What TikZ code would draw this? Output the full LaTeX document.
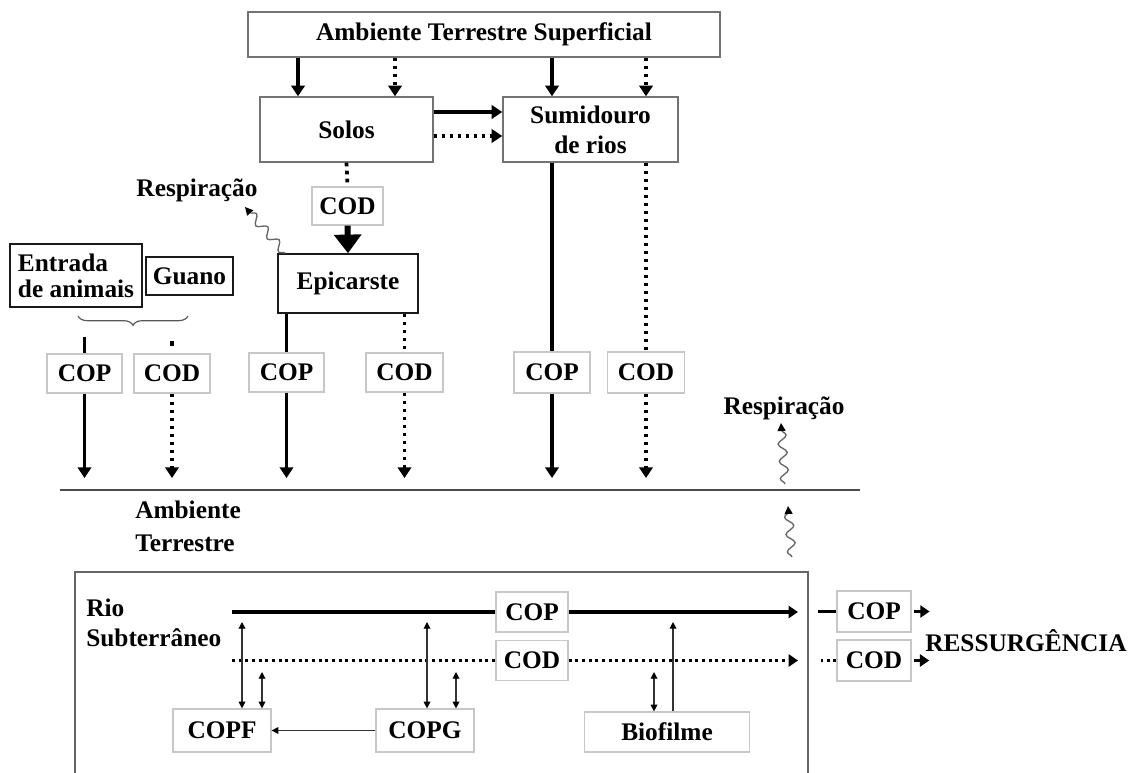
\documentclass[tikz,border=0pt]{standalone}
\usepackage{fontspec}
\setmainfont{Liberation Serif}
\usetikzlibrary{arrows.meta,decorations.pathmorphing,decorations.pathreplacing,calc}
\begin{document}
\begin{tikzpicture}[x=0.75pt,y=-0.75pt,
  lbl/.style={font=\bfseries\fontsize{19}{22.5}\selectfont, inner sep=0pt, text=black},
  bx/.style 2 args={minimum width={#1*0.75pt}, minimum height={#2*0.75pt}, inner sep=0pt, lbl},
  grayb/.style={draw=black!55, line width=1pt},
  lightb/.style={draw=black!22, line width=0.9pt},
  darkb/.style={draw=black!90, line width=1.1pt},
  hd/.style={-{Triangle[width=10pt,length=8pt]}},
  solidline/.style={line width=2.6pt},
  solidarr/.style={solidline, hd},
  dotline/.style={line width=2.8pt, dash pattern=on 2.8pt off 3.2pt},
  dotarr/.style={dotline, hd},
  bigarr/.style={line width=4.5pt, -{Triangle[width=20pt,length=14pt]}},
  rline/.style={line width=2.4pt},
  rarr/.style={rline, -{Triangle[width=9pt,length=7pt]}},
  rdot/.style={line width=2.2pt, dash pattern=on 2.2pt off 2.8pt},
  rdotarr/.style={rdot, -{Triangle[width=9pt,length=7pt]}},
  thinarr/.style={line width=0.9pt, draw=black!80, -{Triangle[width=5pt,length=5pt,color=black]}},
  dbl/.style={line width=0.9pt, draw=black!80, {Triangle[width=5pt,length=5pt,color=black]}-{Triangle[width=5pt,length=5pt,color=black]}},
  wave/.style={draw=black!60, line width=1pt, decorate,
    decoration={snake, amplitude=3.2pt, segment length=13pt, post length=4pt},
    -{Triangle[width=6pt,length=6pt,color=black]}},
  brc/.style={draw=black!65, line width=0.9pt, decorate, decoration={brace, amplitude=7pt, mirror}}
]
\useasboundingbox (0,0) rectangle (1130,773);

% --- upper boxes
\node[grayb, bx={472}{45}] (top) at (484,34.5) {Ambiente Terrestre Superficial};
\node[grayb, bx={173}{65}] (solos) at (346.5,129.5) {Solos};
\node[grayb, bx={175}{65}, align=center] (sumid) at (590.5,129.5) {Sumidouro\\de rios};
\node[lightb, bx={71}{38}] (cod0) at (347.5,206) {COD};
\node[darkb, bx={140}{59}] (epi) at (348,283.5) {Epicarste};
\node[darkb, bx={132}{63}, align=left] (ent) at (76,275.5) {Entrada\\[-3pt]de animais};
\node[darkb, bx={87}{38}] (guano) at (189.5,276) {Guano};
\node[lbl] (resp1) at (197,190) {Respiração};

\coordinate (xa) at (298,0);
\coordinate (xb) at (395,0);
\coordinate (xc) at (552,0);
\coordinate (xd) at (646,0);
\coordinate (ya) at (0,112);
\coordinate (yb) at (0,136);

\draw[solidarr] (xa |- top.south) -- (xa |- solos.north);
\draw[dotarr] (xb |- top.south) -- (xb |- solos.north);
\draw[solidarr] (xc |- top.south) -- (xc |- sumid.north);
\draw[dotarr] (xd |- top.south) -- (xd |- sumid.north);
\draw[solidarr] (solos.east |- ya) -- (sumid.west |- ya);
\draw[dotarr] (solos.east |- yb) -- (sumid.west |- yb);
\draw[dotline] (solos.south) -- (cod0.north);
\draw[bigarr] (cod0.south) -- (epi.north);

\coordinate (w1) at (245,207);
\draw[wave] ([xshift=6pt]epi.north west) -- (w1);

% brace
\coordinate (b1) at (78,316);
\coordinate (b2) at (188,316);
\draw[brc] (b1) -- (b2);

% --- middle COP/COD boxes
\node[lightb, bx={75}{39}] (cop1) at (84.5,373.5) {COP};
\node[lightb, bx={76}{39}] (cod1) at (172,373.5) {COD};
\node[lightb, bx={75}{39}] (cop2) at (286.5,372.5) {COP};
\node[lightb, bx={77}{39}] (cod2) at (404.5,372.5) {COD};
\node[lightb, bx={76}{41}] (cop3) at (552,372.5) {COP};
\node[lightb, bx={77}{41}] (cod3) at (646,372.5) {COD};

\coordinate (ge) at (0,478);
\draw[solidline] (cop1.north) -- ++(0,-16);
\draw[solidarr] (cop1.south) -- (cop1 |- ge);
\fill ($(cod1.north)+(0,-10)$) +(-2.2,-2.2) rectangle +(2.2,2.2);
\draw[dotarr] (cod1.south) -- (cod1 |- ge);
\draw[solidline] (cop2 |- epi.south) -- (cop2.north);
\draw[solidarr] (cop2.south) -- (cop2 |- ge);
\draw[dotline] (cod2 |- epi.south) -- (cod2.north);
\draw[dotarr] (cod2.south) -- (cod2 |- ge);
\draw[solidline] (cop3 |- sumid.south) -- (cop3.north);
\draw[solidarr] (cop3.south) -- (cop3 |- ge);
\draw[dotline] (cod3 |- sumid.south) -- (cod3.north);
\draw[dotarr] (cod3.south) -- (cod3 |- ge);

% ground line
\draw[draw=black!70, line width=1.2pt] (60,490) -- (860,490);
\node[lbl, align=left, anchor=west] (amb) at (135,526) {Ambiente\\[2pt]Terrestre};

\node[lbl] (resp2) at (784,408) {Respiração};
\coordinate (w2a) at (785,484);
\coordinate (w2b) at (781,423);
\coordinate (w3a) at (792,557);
\coordinate (w3b) at (788,506);
\draw[wave] (w2a) -- (w2b);
\draw[wave] (w3a) -- (w3b);

% --- underground river box
\draw[draw=black!60, line width=1.2pt] (75,800) -- (75,572) -- (808,572) -- (808,800);
\node[lbl, align=left, anchor=west] (rio) at (86,623) {Rio\\Subterrâneo};

\node[lightb, bx={72}{40}] (cop4) at (532,612) {COP};
\node[lightb, bx={72}{40}] (cod4) at (532,660.5) {COD};
\coordinate (r1) at (232,612);
\coordinate (r2) at (232,660.5);
\coordinate (re) at (798,0);
\draw[rline] (r1) -- (cop4.west);
\draw[rarr] (cop4.east) -- (re |- cop4);
\draw[rdot] (r2) -- (cod4.west);
\draw[rdotarr] (cod4.east) -- (re |- cod4);

\node[lightb, bx={74}{41}] (cop5) at (874,611.5) {COP};
\node[lightb, bx={74}{41}] (cod5) at (874,660.5) {COD};
\draw[rline] (cop5.west) -- ++(-18,0);
\draw[rarr] ([xshift=1.5pt]cop5.east) -- ++(16,0);
\draw[rdot] (cod5.west) -- ++(-15,0);
\draw[rarr] ([xshift=2pt]cod5.east) -- ++(15,0);
\node[lbl, anchor=west] (res) at (925,641) {RESSURGÊNCIA};

\node[lightb, bx={98}{43}] (copf) at (222,730.5) {COPF};
\node[lightb, bx={98}{43}] (copg) at (425,730.5) {COPG};
\node[lightb, bx={165}{40}] (bio) at (667,732) {Biofilme};

\coordinate (ta) at (0,622);
\coordinate (tb) at (0,672);
\coordinate (v1) at (242,0);
\coordinate (v2) at (262,0);
\coordinate (v3) at (427,0);
\coordinate (v4) at (456,0);
\coordinate (v5) at (654,0);
\coordinate (v6) at (673,0);
\draw[dbl] (v1 |- ta) -- (v1 |- copf.north);
\draw[dbl] (v2 |- tb) -- (v2 |- copf.north);
\draw[dbl] (v3 |- ta) -- (v3 |- copg.north);
\draw[dbl] (v4 |- tb) -- (v4 |- copg.north);
\draw[dbl] (v5 |- tb) -- (v5 |- bio.north);
\draw[thinarr] (v6 |- bio.north) -- (v6 |- ta);
\draw[thinarr] (copg.west) -- (copf.east);
\end{tikzpicture}
\end{document}
